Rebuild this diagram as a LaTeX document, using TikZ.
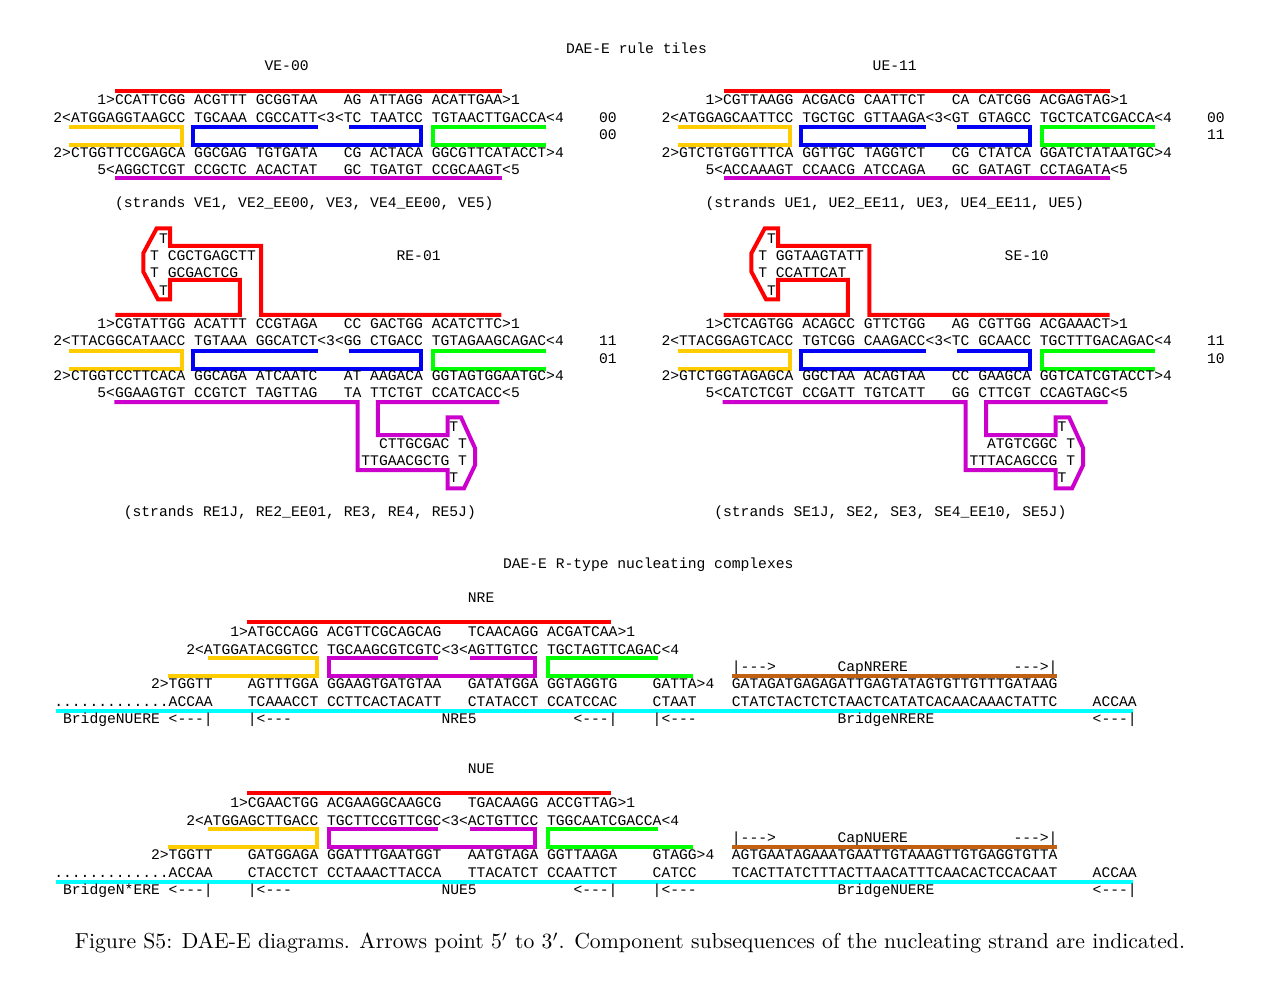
\documentclass[tikz,border=0pt]{standalone}
\usepackage{fontspec}
\usepackage{graphicx}
\setmonofont{Liberation Mono}
\newcommand\seqfont{\ttfamily\frenchspacing\fontsize{14.667}{17.5}\selectfont}
\definecolor{cred}{RGB}{255,0,0}
\definecolor{cyel}{RGB}{255,204,0}
\definecolor{cblu}{RGB}{0,0,245}
\definecolor{cgrn}{RGB}{0,255,0}
\definecolor{cmag}{RGB}{204,0,204}
\definecolor{ccyn}{RGB}{0,255,255}
\definecolor{cbrn}{RGB}{192,96,16}
\tikzset{
  seqtxt/.style={anchor=base west, inner sep=0pt, outer sep=0pt, font=\seqfont},
  rb/.style={draw=cred, line width=4pt},
  yb/.style={draw=cyel, line width=4pt},
  bb/.style={draw=cblu, line width=4pt},
  gb/.style={draw=cgrn, line width=4pt},
  mb/.style={draw=cmag, line width=4pt},
  cb/.style={draw=ccyn, line width=4.5pt},
  nb/.style={draw=cbrn, line width=4pt},
}
\newcounter{seqn}
\newcommand\putseq[3]{\stepcounter{seqn}\node[seqtxt] (s\theseqn) at ({#1*8.8},{#2+4.8}) {#3};}
\newcommand\tilebr{%
  \draw[yb] (16,27.5) -- (128.5,27.5) -- (128.5,45) -- (16,45);
  \draw[bb] (264.5,27.5) -- (139.6,27.5) -- (139.6,45) -- (368,45) -- (368,27.5) -- (295.7,27.5);
  \draw[gb] (493,27.5) -- (380,27.5) -- (380,45) -- (493,45);
}
\newcommand\plainbars{%
  \draw[rb] (62,-8.5) -- (448.5,-8.5);
  \draw[mb] (62,78.5) -- (448.5,78.5);
}
\newcommand\hairbars{%
  \draw[rb] (62,-8.5) -- (186.4,-8.5) -- (186.4,-43.5) -- (116.6,-43.5) -- (116.6,-24.2) -- (104.5,-24.2) -- (89.9,-51.8) -- (89.9,-70.2) -- (103.3,-95.2) -- (116.6,-95.2) -- (116.6,-77.5) -- (207.8,-77.5) -- (207.8,-8.5) -- (448,-8.5);
  \draw[mb] (61,78.5) -- (304.2,78.5) -- (304.2,146.5) -- (394.2,146.5) -- (394.2,164.8) -- (410.6,164.8) -- (421.7,141.5) -- (421.7,124.8) -- (407.6,93.8) -- (394.2,93.8) -- (394.2,111.5) -- (324.5,111.5) -- (324.5,78.5) -- (446,78.5);
}
\newcommand\nucbr{%
  \draw[rb] (192.7,-10) -- (556.7,-10);
  \draw[yb] (153.7,26) -- (262.5,26) -- (262.5,44) -- (113.6,44);
  \draw[mb] (383.2,26) -- (274.3,26) -- (274.3,44) -- (480.3,44) -- (480.3,26) -- (415.3,26);
  \draw[gb] (603.7,26) -- (493.4,26) -- (493.4,44) -- (638.4,44);
  \draw[nb] (677.7,44) -- (1002.7,44);
  \draw[cb] (1.7,79) -- (1078.7,79);
}
\begin{document}
\begin{tikzpicture}[x=1pt,y=-1pt]
\useasboundingbox (0,0) rectangle (1280,1000);
\fill[white] (0,0) rectangle (1280,1000);

\node[seqtxt] (title1) at (566,53.8) {DAE-E rule tiles};

% VE-00
\begin{scope}[shift={(53.4,100)}]
\plainbars
\tilebr
\putseq{24}{-34}{VE-00}
\putseq{5}{0}{1>CCATTCGG ACGTTT GCGGTAA~~~AG ATTAGG ACATTGAA>1}
\putseq{0}{17.5}{2<ATGGAGGTAAGCC TGCAAA CGCCATT<3<TC TAATCC TGTAACTTGACCA<4}
\putseq{62}{17.5}{00}
\putseq{62}{35}{00}
\putseq{0}{52.5}{2>CTGGTTCCGAGCA GGCGAG TGTGATA~~~CG ACTACA GGCGTTCATACCT>4}
\putseq{5}{70}{5<AGGCTCGT CCGCTC ACACTAT~~~GC TGATGT CCGCAAGT<5}
\putseq{7}{103}{(strands VE1, VE2\_EE00, VE3, VE4\_EE00, VE5)}
\end{scope}

% UE-11
\begin{scope}[shift={(661.5,100)}]
\plainbars
\tilebr
\putseq{24}{-34}{UE-11}
\putseq{5}{0}{1>CGTTAAGG ACGACG CAATTCT~~~CA CATCGG ACGAGTAG>1}
\putseq{0}{17.5}{2<ATGGAGCAATTCC TGCTGC GTTAAGA<3<GT GTAGCC TGCTCATCGACCA<4}
\putseq{62}{17.5}{00}
\putseq{62}{35}{11}
\putseq{0}{52.5}{2>GTCTGTGGTTTCA GGTTGC TAGGTCT~~~CG CTATCA GGATCTATAATGC>4}
\putseq{5}{70}{5<ACCAAAGT CCAACG ATCCAGA~~~GC GATAGT CCTAGATA<5}
\putseq{5}{103}{(strands UE1, UE2\_EE11, UE3, UE4\_EE11, UE5)}
\end{scope}

% RE-01
\begin{scope}[shift={(53.4,323.5)}]
\hairbars
\tilebr
\putseq{12}{-85}{T}
\putseq{11}{-68}{T CGCTGAGCTT}
\putseq{39}{-68}{RE-01}
\putseq{11}{-50.5}{T GCGACTCG}
\putseq{12}{-33}{T}
\putseq{5}{0}{1>CGTATTGG ACATTT CCGTAGA~~~CC GACTGG ACATCTTC>1}
\putseq{0}{17.4}{2<TTACGGCATAACC TGTAAA GGCATCT<3<GG CTGACC TGTAGAAGCAGAC<4}
\putseq{62}{17.4}{11}
\putseq{62}{34.8}{01}
\putseq{0}{52.2}{2>CTGGTCCTTCACA GGCAGA ATCAATC~~~AT AAGACA GGTAGTGGAATGC>4}
\putseq{5}{69.6}{5<GGAAGTGT CCGTCT TAGTTAG~~~TA TTCTGT CCATCACC<5}
\putseq{45}{103.5}{T}
\putseq{37}{120.5}{CTTGCGAC T}
\putseq{35}{137.5}{TTGAACGCTG T}
\putseq{45}{154.5}{T}
\putseq{8}{188.5}{(strands RE1J, RE2\_EE01, RE3, RE4, RE5J)}
\end{scope}

% SE-10
\begin{scope}[shift={(661.5,323.5)}]
\hairbars
\tilebr
\putseq{12}{-85}{T}
\putseq{11}{-68}{T GGTAAGTATT}
\putseq{39}{-68}{SE-10}
\putseq{11}{-50.5}{T CCATTCAT}
\putseq{12}{-33}{T}
\putseq{5}{0}{1>CTCAGTGG ACAGCC GTTCTGG~~~AG CGTTGG ACGAAACT>1}
\putseq{0}{17.4}{2<TTACGGAGTCACC TGTCGG CAAGACC<3<TC GCAACC TGCTTTGACAGAC<4}
\putseq{62}{17.4}{11}
\putseq{62}{34.8}{10}
\putseq{0}{52.2}{2>GTCTGGTAGAGCA GGCTAA ACAGTAA~~~CC GAAGCA GGTCATCGTACCT>4}
\putseq{5}{69.6}{5<CATCTCGT CCGATT TGTCATT~~~GG CTTCGT CCAGTAGC<5}
\putseq{45}{103.5}{T}
\putseq{37}{120.5}{ATGTCGGC T}
\putseq{35}{137.5}{TTTACAGCCG T}
\putseq{45}{154.5}{T}
\putseq{6}{188.5}{(strands SE1J, SE2, SE3, SE4\_EE10, SE5J)}
\end{scope}

\node[seqtxt] (title2) at (503,568.8) {DAE-E R-type nucleating complexes};

% NRE
\begin{scope}[shift={(54.3,632)}]
\nucbr
\putseq{47}{-34}{NRE}
\putseq{20}{0}{1>ATGCCAGG ACGTTCGCAGCAG~~~TCAACAGG ACGATCAA>1}
\putseq{15}{17.3}{2<ATGGATACGGTCC TGCAAGCGTCGTC<3<AGTTGTCC TGCTAGTTCAGAC<4}
\putseq{77}{34.6}{|--->}
\putseq{89}{34.6}{CapNRERE}
\putseq{109}{34.6}{--->|}
\putseq{11}{52}{2>TGGTT}
\putseq{22}{52}{AGTTTGGA GGAAGTGATGTAA~~~GATATGGA GGTAGGTG}
\putseq{68}{52}{GATTA>4}
\putseq{77}{52}{GATAGATGAGAGATTGAGTATAGTGTTGTTTGATAAG}
\putseq{0}{69.3}{.............ACCAA}
\putseq{22}{69.3}{TCAAACCT CCTTCACTACATT~~~CTATACCT CCATCCAC}
\putseq{68}{69.3}{CTAAT}
\putseq{77}{69.3}{CTATCTACTCTCTAACTCATATCACAACAAACTATTC}
\putseq{118}{69.3}{ACCAA}
\putseq{1}{86.6}{BridgeNUERE <---|}
\putseq{22}{86.6}{|<---}
\putseq{44}{86.6}{NRE5}
\putseq{59}{86.6}{<---|}
\putseq{68}{86.6}{|<---}
\putseq{89}{86.6}{BridgeNRERE}
\putseq{118}{86.6}{<---|}
\end{scope}

% NUE
\begin{scope}[shift={(54.3,803)}]
\nucbr
\putseq{47}{-34}{NUE}
\putseq{20}{0}{1>CGAACTGG ACGAAGGCAAGCG~~~TGACAAGG ACCGTTAG>1}
\putseq{15}{17.3}{2<ATGGAGCTTGACC TGCTTCCGTTCGC<3<ACTGTTCC TGGCAATCGACCA<4}
\putseq{77}{34.6}{|--->}
\putseq{89}{34.6}{CapNUERE}
\putseq{109}{34.6}{--->|}
\putseq{11}{52}{2>TGGTT}
\putseq{22}{52}{GATGGAGA GGATTTGAATGGT~~~AATGTAGA GGTTAAGA}
\putseq{68}{52}{GTAGG>4}
\putseq{77}{52}{AGTGAATAGAAATGAATTGTAAAGTTGTGAGGTGTTA}
\putseq{0}{69.3}{.............ACCAA}
\putseq{22}{69.3}{CTACCTCT CCTAAACTTACCA~~~TTACATCT CCAATTCT}
\putseq{68}{69.3}{CATCC}
\putseq{77}{69.3}{TCACTTATCTTTACTTAACATTTCAACACTCCACAAT}
\putseq{118}{69.3}{ACCAA}
\putseq{1}{86.6}{BridgeN*ERE <---|}
\putseq{22}{86.6}{|<---}
\putseq{44}{86.6}{NUE5}
\putseq{59}{86.6}{<---|}
\putseq{68}{86.6}{|<---}
\putseq{89}{86.6}{BridgeNUERE}
\putseq{118}{86.6}{<---|}
\end{scope}

\node[inner sep=0pt] (cap) at (630,943) {\resizebox{1110pt}{!}{Figure S5: DAE-E diagrams. Arrows point $5'$ to $3'$. Component subsequences of the nucleating strand are indicated.}};
\end{tikzpicture}
\end{document}
